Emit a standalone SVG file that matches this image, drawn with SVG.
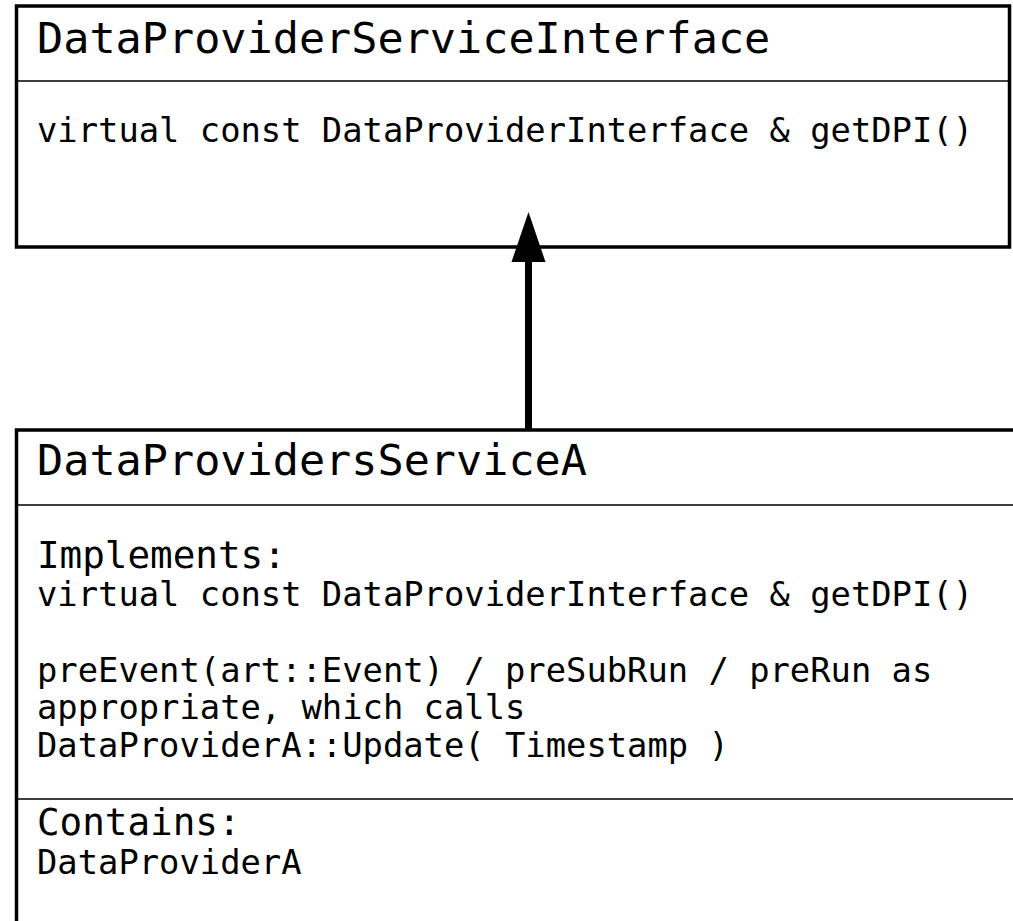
<svg xmlns="http://www.w3.org/2000/svg" width="1013" height="921" viewBox="0 0 1013 921">
<style>
.box{fill:#fff;stroke:#000;stroke-width:3.5}
.div{stroke:#000;stroke-width:1.3}
text{font-family:"DejaVu Sans Mono","Liberation Mono",monospace;fill:#000}
.t{font-size:43.5px}
.b{font-size:33.8px}
.l{font-size:37.6px}
</style>
<rect width="1013" height="921" fill="#fff"/>
<g id="node-interface">
<rect class="box" x="16.5" y="6" width="993" height="241"/>
<line class="div" x1="16.5" y1="81" x2="1009.5" y2="81"/>
<text class="t" x="37" y="53">DataProviderServiceInterface</text>
<text class="b" x="37" y="142">virtual const DataProviderInterface &amp; getDPI()</text>
</g>
<g id="node-serviceA">
<rect class="box" x="16.5" y="430" width="1010" height="510"/>
<line class="div" x1="16.5" y1="505" x2="1013" y2="505"/>
<line class="div" x1="16.5" y1="799" x2="1013" y2="799"/>
<text class="t" x="37" y="475">DataProvidersServiceA</text>
<text class="l" x="37" y="568">Implements:</text>
<text class="b" x="37" y="606">virtual const DataProviderInterface &amp; getDPI()</text>
<text class="b" x="37" y="682">preEvent(art::Event) / preSubRun / preRun as</text>
<text class="b" x="37" y="719">appropriate, which calls</text>
<text class="b" x="37" y="757">DataProviderA::Update( Timestamp )</text>
<text class="l" x="37" y="835">Contains:</text>
<text class="b" x="37" y="874">DataProviderA</text>
</g>
<g id="connectors">
<line x1="528.5" y1="260" x2="528.5" y2="430" stroke="#000" stroke-width="7"/>
<polygon points="528.5,212 511.5,262 545.5,262" fill="#000"/>
</g>
</svg>
